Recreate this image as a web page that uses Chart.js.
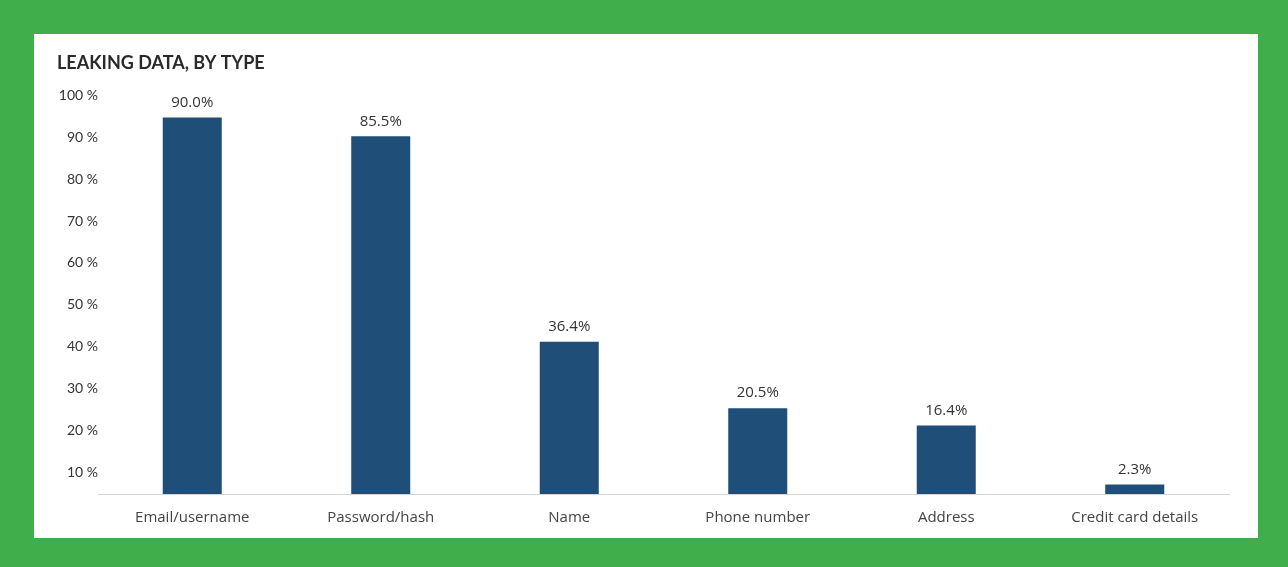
<!DOCTYPE html>
<html>
<head>
<meta charset="utf-8">
<title>Leaking data, by type</title>
<script src="https://cdn.jsdelivr.net/npm/chart.js@4.4.1/dist/chart.umd.min.js"></script>
<style>
  html, body { margin: 0; padding: 0; }
  body { width: 1288px; height: 567px; background: #40ae4a; position: relative; overflow: hidden; }
  .panel { position: absolute; left: 34px; top: 34px; width: 1224px; height: 504px; background: #fff; }
  canvas { display: block; position: absolute; left: 0; top: 0; }
</style>
</head>
<body>
<div class="panel">
  <canvas id="leakChart" width="1224" height="520"></canvas>
</div>
<script>
// Share of leaks containing each data type (%)
const categories = ['Email/username', 'Password/hash', 'Name', 'Phone number', 'Address', 'Credit card details'];
const leakShare = [90.0, 85.5, 36.4, 20.5, 16.4, 2.3];
const yTicks = [10, 20, 30, 40, 50, 60, 70, 80, 90, 100];

// Writes the percentage above each bar
const valueLabels = {
  id: 'valueLabels',
  afterDatasetsDraw(chart) {
    const { ctx } = chart;
    const meta = chart.getDatasetMeta(0);
    ctx.save();
    ctx.font = '15px "Open Sans", sans-serif';
    ctx.fillStyle = '#333';
    ctx.textAlign = 'center';
    ctx.textBaseline = 'middle';
    meta.data.forEach((bar, i) => {
      ctx.fillText(leakShare[i].toFixed(1) + '%', bar.x, bar.y - 15);
    });
    ctx.restore();
  }
};

const ctx = document.getElementById('leakChart').getContext('2d');

new Chart(ctx, {
  type: 'bar',
  data: {
    labels: categories,
    datasets: [
      {
        label: 'Leaking data',
        data: leakShare,
        backgroundColor: '#1f4e78',
        borderWidth: 0,
        barPercentage: 0.313,
        categoryPercentage: 1
      }
    ]
  },
  options: {
    responsive: false,
    animation: false,
    layout: {
      padding: { top: 0, left: 23, right: 29, bottom: 12 }
    },
    plugins: {
      legend: { display: false },
      tooltip: { enabled: false },
      title: {
        display: true,
        text: 'LEAKING DATA, BY TYPE',
        align: 'start',
        color: '#2a2a2a',
        font: { family: 'Lato, sans-serif', size: 18, weight: 'bold' },
        padding: { top: 18, bottom: 2 }
      }
    },
    scales: {
      x: {
        grid: { display: false, drawTicks: false },
        border: { display: true, color: '#d4d4d4', width: 1 },
        ticks: {
          color: '#444',
          font: { family: '"Open Sans", sans-serif', size: 15 },
          padding: 15,
          maxRotation: 0
        }
      },
      y: {
        min: 0,
        max: 100,
        grid: { display: false, drawTicks: false },
        border: { display: false },
        afterBuildTicks: (axis) => {
          axis.ticks = yTicks.map(v => ({ value: v }));
        },
        afterFit: (axis) => {
          axis.width = 41;
        },
        ticks: {
          color: '#333',
          font: { family: 'Lato, sans-serif', size: 14 },
          padding: 0,
          labelOffset: 20,
          callback: (v) => v + ' %'
        }
      }
    }
  },
  plugins: [valueLabels]
});
</script>
</body>
</html>
